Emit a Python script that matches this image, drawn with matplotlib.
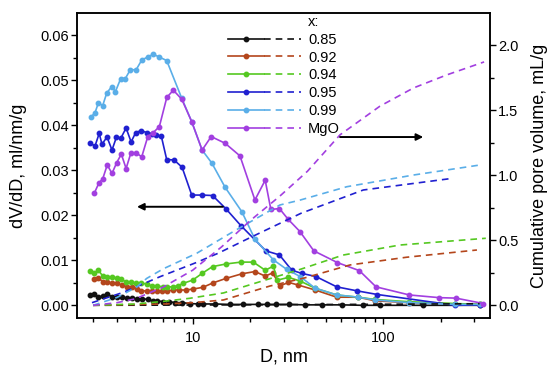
import matplotlib
matplotlib.use('Agg')
import matplotlib.pyplot as plt
from matplotlib.lines import Line2D
from matplotlib.legend_handler import HandlerTuple
from matplotlib.ticker import MultipleLocator, LogLocator, NullFormatter, FixedLocator, FixedFormatter, FormatStrFormatter

plt.rcParams['font.family'] = ['Liberation Sans', 'DejaVu Sans']

labels = ['0.85', '0.92', '0.94', '0.95', '0.99', 'MgO']
colors = ['#111111', '#b4461c', '#55c821', '#2020d0', '#5aaee8', '#a23fe0']

# ---- pore size distribution dV/dD (left axis) ----
d_085 = [2.89, 3.04, 3.20, 3.37, 3.56, 3.77, 4.00, 4.24, 4.51, 4.79, 5.08, 5.40, 5.81, 6.17, 6.52,
         7.01, 7.54, 8.07, 8.76, 9.68, 10.7, 11.3, 13.1, 15.6, 18.3, 22.1, 24.6, 27.4, 32.1, 38.8,
         47.5, 60.5, 78.6, 96.1, 162, 322]
v_085 = [0.0023, 0.0025, 0.0018, 0.0021, 0.0025, 0.0019, 0.0018, 0.0018, 0.0016, 0.0016, 0.0014,
         0.0015, 0.0013, 0.0010, 0.0010, 0.0008, 0.0008, 0.0006, 0.0006, 0.0004, 0.0003, 0.0003,
         0.0003, 0.0002, 0.0002, 0.0002, 0.0002, 0.0002, 0.0002, 0.0001, 0.0001, 0.0001, 0.0,
         0.0, 0.0, 0.0]

d_092 = [3.04, 3.20, 3.40, 3.56, 3.77, 4.00, 4.24, 4.51, 4.79, 5.08, 5.35, 5.73, 6.09, 6.47, 6.88,
         7.36, 7.91, 8.51, 9.22, 10.0, 11.3, 12.8, 15.0, 18.1, 21.2, 24.0, 26.3, 28.7, 31.8, 35.8,
         43.9, 57.0, 74.0, 90.4, 136, 238, 322]
v_092 = [0.0058, 0.0060, 0.0052, 0.0051, 0.0050, 0.0049, 0.0045, 0.0041, 0.0041, 0.0037, 0.0032,
         0.0032, 0.0032, 0.0032, 0.0032, 0.0032, 0.0034, 0.0034, 0.0034, 0.0036, 0.0040, 0.0050,
         0.0060, 0.0070, 0.0075, 0.0065, 0.0072, 0.0043, 0.0051, 0.0045, 0.0034, 0.0018, 0.0018,
         0.0010, 0.0006, 0.0003, 0.0002]

d_094 = [2.89, 3.04, 3.20, 3.37, 3.56, 3.77, 4.00, 4.21, 4.47, 4.75, 5.04, 5.35, 5.73, 6.09, 6.47,
         6.96, 7.36, 7.91, 8.40, 8.93, 10.0, 11.2, 12.7, 15.0, 17.9, 20.8, 24.0, 26.5, 27.8, 31.8,
         36.6, 43.9, 57.0, 74.0, 90.4, 136, 238, 322]
v_094 = [0.0077, 0.0072, 0.0078, 0.0065, 0.0064, 0.0062, 0.0060, 0.0058, 0.0052, 0.0051, 0.0050,
         0.0050, 0.0047, 0.0043, 0.0043, 0.0041, 0.0041, 0.0041, 0.0044, 0.0049, 0.0056, 0.0071,
         0.0086, 0.0092, 0.0096, 0.0096, 0.0078, 0.0087, 0.0056, 0.0062, 0.0054, 0.0038, 0.0023,
         0.0018, 0.0013, 0.0008, 0.0004, 0.0002]

d_095 = [2.89, 3.07, 3.23, 3.34, 3.55, 3.77, 3.98, 4.19, 4.47, 4.75, 5.02, 5.35, 5.73, 6.13, 6.42,
         6.84, 7.30, 7.97, 8.79, 9.88, 11.2, 12.7, 14.9, 17.9, 24.2, 28.5, 33.1, 37.3, 44.3, 57.0,
         73.1, 93.2, 238, 322]
v_095 = [0.0361, 0.0354, 0.0382, 0.0358, 0.0374, 0.0345, 0.0374, 0.0371, 0.0394, 0.0363, 0.0384,
         0.0388, 0.0384, 0.0380, 0.0378, 0.0376, 0.0324, 0.0323, 0.0307, 0.0245, 0.0245, 0.0244,
         0.0215, 0.0177, 0.0121, 0.0112, 0.0078, 0.0071, 0.0064, 0.0041, 0.0032, 0.0024, 0.0000,
         0.0001]

d_099 = [2.92, 3.07, 3.20, 3.37, 3.54, 3.76, 3.93, 4.19, 4.43, 4.71, 5.04, 5.40, 5.81, 6.21, 6.65,
         7.30, 8.76, 9.88, 11.2, 12.6, 14.8, 18.1, 21.2, 26.5, 31.1, 36.6, 43.9, 57.0, 74.0, 90.4,
         136, 238, 322]
v_099 = [0.0418, 0.0428, 0.0450, 0.0444, 0.0472, 0.0486, 0.0475, 0.0504, 0.0504, 0.0524, 0.0523,
         0.0545, 0.0552, 0.0558, 0.0552, 0.0544, 0.0460, 0.0408, 0.0345, 0.0316, 0.0262, 0.0208,
         0.0147, 0.0101, 0.0080, 0.0064, 0.0038, 0.0023, 0.0018, 0.0012, 0.0006, 0.0002, 0.0002]

d_mgo = [3.05, 3.22, 3.37, 3.56, 3.77, 3.99, 4.22, 4.47, 4.74, 5.04, 5.40, 5.81, 6.21, 6.68, 7.31,
         7.91, 8.76, 9.88, 11.2, 12.5, 14.8, 17.7, 21.2, 24.0, 25.7, 28.5, 31.7, 36.5, 43.2, 57.4,
         74.9, 91.6, 137, 197, 240, 335]
v_mgo = [0.0250, 0.0272, 0.0281, 0.0312, 0.0293, 0.0317, 0.0336, 0.0304, 0.0339, 0.0339, 0.0330,
         0.0375, 0.0384, 0.0397, 0.0462, 0.0478, 0.0458, 0.0408, 0.0345, 0.0375, 0.0360, 0.0332,
         0.0234, 0.0278, 0.0213, 0.0215, 0.0191, 0.0164, 0.0121, 0.0095, 0.0077, 0.0041, 0.0023,
         0.0017, 0.0016, 0.0004]

# ---- cumulative pore volume (right axis) ----
dc_085 = [3.0, 10, 30, 100, 320]
c_085 = [0.0, 0.002, 0.005, 0.008, 0.012]
dc_092 = [3.0, 7, 10, 14.5, 25.4, 38.8, 66.9, 132, 310]
c_092 = [0.0, 0.01, 0.02, 0.041, 0.148, 0.211, 0.31, 0.369, 0.425]
dc_094 = [3.0, 5, 7, 9.67, 14.5, 22.5, 37, 61.5, 122, 345]
c_094 = [0.0, 0.01, 0.03, 0.054, 0.095, 0.181, 0.278, 0.386, 0.463, 0.515]
dc_095 = [2.96, 4.33, 6.74, 10.5, 13.6, 20, 37, 78.5, 232]
c_095 = [0.02, 0.10, 0.22, 0.33, 0.40, 0.52, 0.707, 0.886, 0.976]
dc_099 = [3.0, 4, 5.08, 5.74, 7, 10.5, 16.3, 28.7, 36.5, 64.3, 144, 321]
c_099 = [0.0, 0.06, 0.14, 0.207, 0.28, 0.40, 0.566, 0.771, 0.808, 0.911, 1.001, 1.078]
dc_mgo = [3.0, 4, 5, 7, 10, 14.2, 20, 28.7, 40, 59.3, 96, 144, 215, 338]
c_mgo = [0.0, 0.02, 0.05, 0.14, 0.27, 0.45, 0.65, 0.84, 1.03, 1.31, 1.53, 1.67, 1.77, 1.87]

psd = [(d_085, v_085), (d_092, v_092), (d_094, v_094), (d_095, v_095), (d_099, v_099), (d_mgo, v_mgo)]
cum = [(dc_085, c_085), (dc_092, c_092), (dc_094, c_094), (dc_095, c_095), (dc_099, c_099), (dc_mgo, c_mgo)]

# arrow annotations
left_arrow = dict(start=(14.4, 0.0219), end=(5.1, 0.0219))
right_arrow = dict(start=(59.3, 1.293), end=(162, 1.293))

fig = plt.figure(figsize=(5.5, 3.75), dpi=100)
ax = fig.add_axes([77 / 550, 1 - 318 / 375, 413 / 550, 305 / 375])
ax2 = ax.twinx()

DASH = (4, 3)
solid_handles = []
dash_handles = []
for (d, v), (dc, c), col in zip(psd, cum, colors):
    ax.plot(d, v, '-', color=col, lw=1.2, marker='o', ms=3.2, mec=col, mfc=col)
    ax2.plot(dc, c, '--', color=col, lw=1.2, dashes=DASH)
    solid_handles.append(Line2D([], [], color=col, lw=1.2, marker='o', ms=3.2))
    dash_handles.append(Line2D([], [], color=col, lw=1.2, ls='--', dashes=DASH))

ax.set_xscale('log')
ax.set_xlim(2.47, 363)
ax.set_ylim(-0.00282, 0.06496)
ax2.set_ylim(-0.0976, 2.246)

ax.xaxis.set_major_locator(FixedLocator([10, 100]))
ax.xaxis.set_major_formatter(FixedFormatter(['10', '100']))
ax.xaxis.set_minor_locator(LogLocator(base=10, subs=range(2, 10), numticks=20))
ax.xaxis.set_minor_formatter(NullFormatter())
ax.yaxis.set_major_locator(MultipleLocator(0.01))
ax.yaxis.set_minor_locator(MultipleLocator(0.005))
ax.yaxis.set_major_formatter(FormatStrFormatter('%.2f'))
ax2.yaxis.set_major_locator(MultipleLocator(0.5))
ax2.yaxis.set_minor_locator(MultipleLocator(0.25))
ax2.yaxis.set_major_formatter(FormatStrFormatter('%.1f'))

for a in (ax, ax2):
    a.tick_params(which='major', direction='out', length=4, width=1, labelsize=10.5, pad=2)
    a.tick_params(which='minor', direction='out', length=3, width=1)
    for s in a.spines.values():
        s.set_linewidth(1.1)
ax.tick_params(axis='x', which='both', top=False)
ax.tick_params(axis='x', which='major', pad=5)
ax.tick_params(axis='y', which='both', right=False)

ax.set_xlabel('D, nm', fontsize=13, labelpad=3)
ax.set_ylabel('dV/dD, ml/nm/g', fontsize=13, labelpad=9)
ax2.set_ylabel('Cumulative pore volume, mL/g', fontsize=13, labelpad=9)

arrowprops = dict(arrowstyle='-|>', color='black', lw=1.4, mutation_scale=10, shrinkA=0, shrinkB=0)
ax.annotate('', xy=left_arrow['end'], xytext=left_arrow['start'], arrowprops=arrowprops)
ax2.annotate('', xy=right_arrow['end'], xytext=right_arrow['start'], arrowprops=arrowprops)

blank = Line2D([], [], ls='none')
handles = [blank] + [(s, dsh) for s, dsh in zip(solid_handles, dash_handles)]
leg = ax2.legend(handles, ['x:'] + labels,
                 handler_map={tuple: HandlerTuple(ndivide=None, pad=0.0)},
                 loc='upper left', bbox_to_anchor=(228 / 550, 1 - 15 / 375),
                 bbox_transform=fig.transFigure, frameon=False, fontsize=10.5,
                 handlelength=5.0, handletextpad=0.5, labelspacing=0.26,
                 borderpad=0, borderaxespad=0)

fig.savefig('out.png', dpi=100)
